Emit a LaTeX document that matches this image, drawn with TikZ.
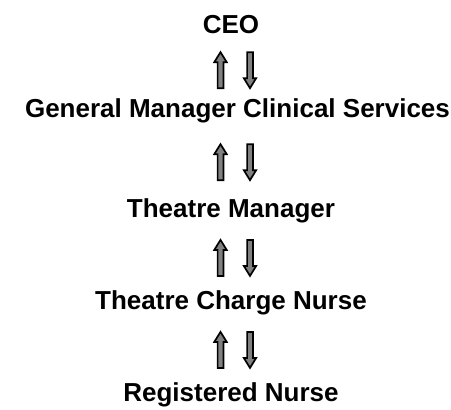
\documentclass[tikz,border=0pt]{standalone}
\usepackage{fontspec}
\setmainfont{Liberation Sans}
\usepackage{tikz}
\usetikzlibrary{calc}
\usepackage{xcolor}
\definecolor{arrowgrey}{RGB}{128,128,128}

\tikzset{
    rank/.style={font=\fontsize{13}{15.6}\selectfont\bfseries, inner sep=0pt,
        text height=0.72em, text depth=0.21em, anchor=base},
    blockarrow/.style={draw=black, fill=arrowgrey, line width=0.85pt, line join=miter,
        to path={let \p1=(\tikztostart), \p2=(\tikztotarget),
            \p3=($(\p1)!0.5!(\p2)$), \p4=($(\p3)!9pt!(\p2)$),
            \p5=($(\p3)!9pt!(\p1)$), \p6=($(\p3)!4pt!(\p2)$) in
            (\x1-1.45pt,\y5) -- (\x1-1.45pt,\y6) -- (\x1-3.1pt,\y6) -- (\x1,\y4)
            -- (\x1+3.1pt,\y6) -- (\x1+1.45pt,\y6) -- (\x1+1.45pt,\y5) -- cycle}}
}

\begin{document}
\begin{tikzpicture}[x=0.5pt, y=-0.5pt]
    \useasboundingbox (0,0) rectangle (451,409);

    % Ranks, top to bottom
    \node[rank] (ceo) at (231,33) {CEO};
    \node[rank] (gm) at (237.5,117.5) {General Manager Clinical Services};
    \node[rank] (tm) at (231,217) {Theatre Manager};
    \node[rank] (tcn) at (231,309) {Theatre Charge Nurse};
    \node[rank] (rn) at (231,401) {Registered Nurse};

    % Columns of the arrows
    \coordinate (upcol) at (220.5,0);
    \coordinate (dncol) at (250,0);

    % Reporting up and down
    \draw[blockarrow] (gm.north -| upcol) to (ceo.south -| upcol);
    \draw[blockarrow] (ceo.south -| dncol) to (gm.north -| dncol);

    \draw[blockarrow] (tm.north -| upcol) to (gm.south -| upcol);
    \draw[blockarrow] (gm.south -| dncol) to (tm.north -| dncol);

    \draw[blockarrow] (tcn.north -| upcol) to (tm.south -| upcol);
    \draw[blockarrow] (tm.south -| dncol) to (tcn.north -| dncol);

    \draw[blockarrow] (rn.north -| upcol) to (tcn.south -| upcol);
    \draw[blockarrow] (tcn.south -| dncol) to (rn.north -| dncol);
\end{tikzpicture}
\end{document}
